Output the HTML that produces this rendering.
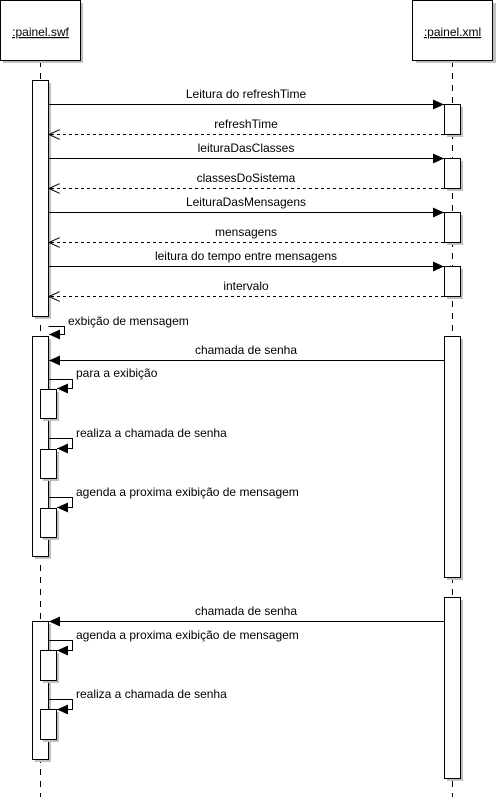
<!DOCTYPE html>
<html><head><meta charset="utf-8"><style>
html,body{margin:0;padding:0;background:#fff;width:497px;height:804px;overflow:hidden}
svg{display:block}
text{font-family:"Liberation Sans",Arial,sans-serif;font-size:12px;fill:#000}
</style></head><body>
<svg width="497" height="804" viewBox="0 0 497 804" xmlns="http://www.w3.org/2000/svg">
<defs>
<marker id="f" markerWidth="12" markerHeight="10" refX="11" refY="5" orient="auto" markerUnits="userSpaceOnUse"><path d="M0,0 L11,5 L0,10 Z" fill="#000"/></marker>
<marker id="o" markerWidth="12" markerHeight="10" refX="11" refY="5" orient="auto" markerUnits="userSpaceOnUse"><path d="M0,0 L11,5 L0,10" fill="none" stroke="#000"/></marker>
</defs>
<g shape-rendering="crispEdges">
<!-- lifelines -->
<line x1="40.5" y1="61" x2="40.5" y2="797" stroke="#000" stroke-dasharray="6,6"/>
<line x1="452.5" y1="61" x2="452.5" y2="797" stroke="#000" stroke-dasharray="6,6"/>
<!-- header boxes -->
<rect x="3" y="3" width="80" height="60" fill="#c0c0c0"/>
<rect x="0.5" y="0.5" width="80" height="60" fill="#fff" stroke="#000"/>
<rect x="416" y="3" width="80" height="60" fill="#c0c0c0"/>
<rect x="412.5" y="0.5" width="80" height="60" fill="#fff" stroke="#000"/>
</g>
<text x="40.5" y="36" text-anchor="middle" text-decoration="underline">:painel.swf</text>
<text x="452.5" y="36" text-anchor="middle" text-decoration="underline">:painel.xml</text>
<g shape-rendering="crispEdges" stroke="#000" fill="#fff">
<!-- left main activations -->
<rect x="35" y="83" width="16" height="236" fill="#c0c0c0" stroke="none"/>
<rect x="32.5" y="80.5" width="16" height="236"/>
<rect x="35" y="339" width="16" height="220" fill="#c0c0c0" stroke="none"/>
<rect x="32.5" y="336.5" width="16" height="220"/>
<rect x="35" y="624" width="16" height="138" fill="#c0c0c0" stroke="none"/>
<rect x="32.5" y="621.5" width="16" height="138"/>
<!-- right activations -->
<rect x="447" y="107" width="16" height="30" fill="#c0c0c0" stroke="none"/><rect x="444.5" y="104.5" width="16" height="30"/>
<rect x="447" y="161" width="16" height="30" fill="#c0c0c0" stroke="none"/><rect x="444.5" y="158.5" width="16" height="30"/>
<rect x="447" y="215" width="16" height="30" fill="#c0c0c0" stroke="none"/><rect x="444.5" y="212.5" width="16" height="30"/>
<rect x="447" y="269" width="16" height="30" fill="#c0c0c0" stroke="none"/><rect x="444.5" y="266.5" width="16" height="30"/>
<rect x="447" y="339" width="16" height="241" fill="#c0c0c0" stroke="none"/><rect x="444.5" y="336.5" width="16" height="241"/>
<rect x="447" y="600" width="16" height="181" fill="#c0c0c0" stroke="none"/><rect x="444.5" y="597.5" width="16" height="181"/>
<!-- nested activations -->
<rect x="43" y="392" width="16" height="29" fill="#c0c0c0" stroke="none"/><rect x="40.5" y="389.5" width="16" height="29"/>
<rect x="43" y="452" width="16" height="29" fill="#c0c0c0" stroke="none"/><rect x="40.5" y="449.5" width="16" height="29"/>
<rect x="43" y="511" width="16" height="29" fill="#c0c0c0" stroke="none"/><rect x="40.5" y="508.5" width="16" height="29"/>
<rect x="43" y="653" width="16" height="30" fill="#c0c0c0" stroke="none"/><rect x="40.5" y="650.5" width="16" height="30"/>
<rect x="43" y="712" width="16" height="30" fill="#c0c0c0" stroke="none"/><rect x="40.5" y="709.5" width="16" height="30"/>
</g>
<g stroke="#000" fill="none">
<!-- calls -->
<line x1="48.5" y1="104.5" x2="444" y2="104.5" marker-end="url(#f)"/>
<line x1="444" y1="134.5" x2="49" y2="134.5" stroke-dasharray="3,3" marker-end="url(#o)"/>
<line x1="48.5" y1="158.5" x2="444" y2="158.5" marker-end="url(#f)"/>
<line x1="444" y1="188.5" x2="49" y2="188.5" stroke-dasharray="3,3" marker-end="url(#o)"/>
<line x1="48.5" y1="212.5" x2="444" y2="212.5" marker-end="url(#f)"/>
<line x1="444" y1="242.5" x2="49" y2="242.5" stroke-dasharray="3,3" marker-end="url(#o)"/>
<line x1="48.5" y1="266.5" x2="444" y2="266.5" marker-end="url(#f)"/>
<line x1="444" y1="296.5" x2="49" y2="296.5" stroke-dasharray="3,3" marker-end="url(#o)"/>
<!-- self call exibição -->
<polyline points="48.5,326.5 64.5,326.5 64.5,334.5 49,334.5" marker-end="url(#f)"/>
<line x1="444" y1="360.5" x2="49" y2="360.5" marker-end="url(#f)"/>
<polyline points="48.5,379.5 72.5,379.5 72.5,388.5 57,388.5" marker-end="url(#f)"/>
<polyline points="48.5,438.5 72.5,438.5 72.5,448.5 57,448.5" marker-end="url(#f)"/>
<polyline points="48.5,497.5 72.5,497.5 72.5,507.5 57,507.5" marker-end="url(#f)"/>
<line x1="444" y1="621.5" x2="49" y2="621.5" marker-end="url(#f)"/>
<polyline points="48.5,640.5 72.5,640.5 72.5,650.5 57,650.5" marker-end="url(#f)"/>
<polyline points="48.5,699.5 72.5,699.5 72.5,709.5 57,709.5" marker-end="url(#f)"/>
</g>
<text x="246" y="98" text-anchor="middle">Leitura do refreshTime</text>
<text x="246" y="128" text-anchor="middle">refreshTime</text>
<text x="246" y="152" text-anchor="middle">leituraDasClasses</text>
<text x="246" y="182" text-anchor="middle">classesDoSistema</text>
<text x="246" y="206" text-anchor="middle">LeituraDasMensagens</text>
<text x="246" y="236" text-anchor="middle">mensagens</text>
<text x="246" y="260" text-anchor="middle">leitura do tempo entre mensagens</text>
<text x="246" y="290" text-anchor="middle">intervalo</text>
<text x="68" y="325">exbição de mensagem</text>
<text x="246" y="354" text-anchor="middle">chamada de senha</text>
<text x="76" y="377">para a exibição</text>
<text x="76" y="437">realiza a chamada de senha</text>
<text x="76" y="496">agenda a proxima exibição de mensagem</text>
<text x="246" y="615" text-anchor="middle">chamada de senha</text>
<text x="76" y="639">agenda a proxima exibição de mensagem</text>
<text x="76" y="698">realiza a chamada de senha</text>
</svg>
</body></html>
